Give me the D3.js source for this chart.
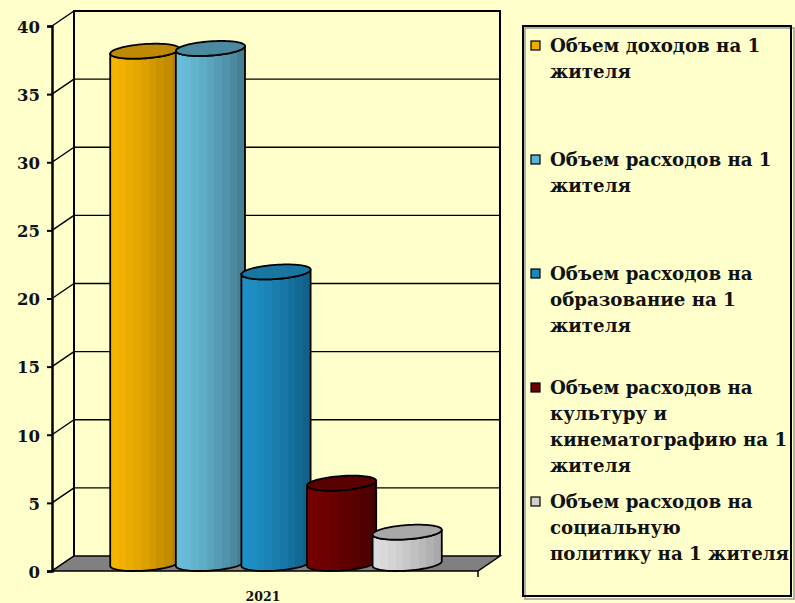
<!DOCTYPE html>
<html>
<head>
<meta charset="utf-8">
<script src="https://cdn.jsdelivr.net/npm/d3@7/dist/d3.min.js"></script>
<style>
  html, body { margin: 0; padding: 0; background: #FFFFCC; }
  svg { display: block; }
  text { font-family: "DejaVu Serif", "Liberation Serif", serif; font-weight: bold; fill: #111; }
</style>
</head>
<body>
<svg id="chart" width="795" height="603"></svg>
<script>
// Budget indicators per inhabitant, 2021
const categories = ["2021"];
const seriesNames = [
  "Объем доходов на 1 жителя",
  "Объем расходов на 1 жителя",
  "Объем расходов на образование на 1 жителя",
  "Объем расходов на культуру и кинематографию на 1 жителя",
  "Объем расходов на социальную политику на 1 жителя"
];
const legendLines = [
  ["Объем доходов на 1", "жителя"],
  ["Объем расходов на 1", "жителя"],
  ["Объем расходов на", "образование на 1", "жителя"],
  ["Объем расходов на", "культуру и", "кинематографию на 1", "жителя"],
  ["Объем расходов на", "социальную", "политику на 1 жителя"]
];
const values2021 = [37.6, 37.8, 21.4, 5.9, 2.3];
const yTicks = [0, 5, 10, 15, 20, 25, 30, 35, 40];

// colour sets: [light side, dark side, top cap, legend swatch]
const palette = [
  ["#F5B400", "#B88300", "#BE8A06", "#F0AA00"],
  ["#68BEDA", "#467F94", "#4A8AA0", "#5BB4D2"],
  ["#1E90C6", "#12618A", "#1876A2", "#1A87BD"],
  ["#740000", "#480000", "#5A0000", "#6A0000"],
  ["#DCDCDC", "#A9A9A9", "#A8A8A8", "#D0D0D0"]
];

const svg = d3.select("#chart");

// plot frame: front plane and depth offset of the 3D box
const frontLeft = 52, frontRight = 478;
const depthX = 22, depthY = -15;
const y = d3.scaleLinear().domain([0, 40]).range([571, 26]);

const x0 = d3.scaleBand().domain(categories).range([frontLeft, frontRight]).paddingInner(0.13).paddingOuter(0.13);
const x1 = d3.scaleBand().domain(d3.range(seriesNames.length)).range([0, x0.bandwidth()]).padding(0);

const g = svg.append("g");

// back wall gridlines
g.selectAll(".grid").data(yTicks.filter(d => d > 0)).join("line")
  .attr("x1", frontLeft + depthX).attr("x2", frontRight + depthX)
  .attr("y1", d => y(d) + depthY).attr("y2", d => y(d) + depthY)
  .attr("stroke", "#000").attr("stroke-width", 1.3);

// back wall edges
g.append("path")
  .attr("d", `M${frontLeft + depthX},${y(0) + depthY}V${y(40) + depthY}H${frontRight + depthX}V${y(0) + depthY}`)
  .attr("fill", "none").attr("stroke", "#000").attr("stroke-width", 2);

// side wall diagonals at each tick
g.selectAll(".diag").data(yTicks).join("line")
  .attr("x1", frontLeft).attr("y1", d => y(d))
  .attr("x2", frontLeft + depthX).attr("y2", d => y(d) + depthY)
  .attr("stroke", "#000").attr("stroke-width", 1.5);

// floor
g.append("path")
  .attr("d", `M${frontLeft},${y(0)}L${frontRight},${y(0)}L${frontRight + depthX},${y(0) + depthY}L${frontLeft + depthX},${y(0) + depthY}Z`)
  .attr("fill", "#808080").attr("stroke", "#000").attr("stroke-width", 1.5);
g.append("line").attr("x1", frontRight).attr("x2", frontRight).attr("y1", y(0)).attr("y2", y(0) + 6)
  .attr("stroke", "#000").attr("stroke-width", 1.5);

// front value axis
const yAxis = d3.axisLeft(y).tickValues(yTicks).tickSize(5).tickPadding(7).tickFormat(d3.format("d"));
const ax = svg.append("g").attr("transform", `translate(${frontLeft},0)`).call(yAxis);
ax.select(".domain").attr("stroke", "#000").attr("stroke-width", 2.5);
ax.selectAll(".tick line").attr("stroke", "#000").attr("stroke-width", 2);
ax.selectAll(".tick text").attr("font-size", 16.5).attr("fill", "#111")
  .attr("font-family", "'DejaVu Serif', serif").attr("font-weight", "bold").attr("dy", "0.38em");

// category label
svg.append("text").attr("x", x0("2021") + x0.bandwidth() / 2 - 2).attr("y", 601)
  .attr("text-anchor", "middle").attr("font-size", 12.5).text(categories[0]);

// gradients with faceted bands across each cylinder
const defs = svg.append("defs");
const bands = 9;

const cyl = g.append("g");
const cylData = values2021.map((v, i) => ({ v, i }));

cylData.forEach(({ v, i }) => {
  const rx = x1.bandwidth() / 2;
  const kx = depthX / 2, ky = depthY / 2;
  const cx = x0("2021") + x1(i) + rx + kx;   // centre at mid depth
  const yb = y(0) + ky, yt = y(v) + ky;
  const pt = (t, yc) => [cx + rx * Math.cos(t) + kx * Math.sin(t), yc + ky * Math.sin(t)];
  const tR = Math.atan2(kx, rx);
  const tL = Math.PI + tR;
  const half = Math.hypot(rx, kx);

  const gid = "grad" + i;
  const grad = defs.append("linearGradient").attr("id", gid)
    .attr("gradientUnits", "userSpaceOnUse")
    .attr("x1", cx - half).attr("x2", cx + half).attr("y1", 0).attr("y2", 0);
  const interp = d3.interpolateRgb(palette[i][0], palette[i][1]);
  for (let b = 0; b < bands; b++) {
    const c = interp(Math.pow(b / (bands - 1), 1.3));
    grad.append("stop").attr("offset", b / bands).attr("stop-color", c);
    grad.append("stop").attr("offset", (b + 1) / bands).attr("stop-color", c);
  }

  // body: sides plus front half of the base ellipse
  const n = 40;
  const pts = [pt(tL, yt)];
  for (let k = 0; k <= n; k++) pts.push(pt(tL + (tR + 2 * Math.PI - tL) * k / n, yb));
  pts.push(pt(tR, yt));
  for (let k = 0; k <= n; k++) pts.push(pt(tR + 2 * Math.PI - (tR + 2 * Math.PI - tL) * k / n, yt));
  cyl.append("path").attr("d", d3.line()(pts) + "Z")
    .attr("fill", `url(#${gid})`).attr("stroke", "#000").attr("stroke-width", 1.8).attr("stroke-linejoin", "round");

  // top cap
  const cap = d3.range(0, 73).map(k => pt(k / 72 * 2 * Math.PI, yt));
  cyl.append("path").attr("d", d3.line()(cap) + "Z")
    .attr("fill", palette[i][2]).attr("stroke", "#000").attr("stroke-width", 1.8);
});

// legend
const lg = svg.append("g");
lg.append("rect").attr("x", 525).attr("y", 28).attr("width", 269).attr("height", 571)
  .attr("fill", "none").attr("stroke", "#999").attr("stroke-width", 1.5);
lg.append("rect").attr("x", 523).attr("y", 26).attr("width", 268).attr("height", 570)
  .attr("fill", "none").attr("stroke", "#000").attr("stroke-width", 2);

const itemY = d3.scalePoint().domain(d3.range(seriesNames.length)).range([52, 508]);
seriesNames.forEach((name, i) => {
  const by = itemY(i);
  lg.append("rect").attr("x", 531).attr("y", by - 11).attr("width", 9).attr("height", 9)
    .attr("fill", palette[i][3]).attr("stroke", "#000").attr("stroke-width", 1.2);
  const t = lg.append("text").attr("x", 550).attr("y", by).attr("font-size", 18.2);
  legendLines[i].forEach((line, j) => {
    t.append("tspan").attr("x", 550).attr("y", by + j * 26).text(line);
  });
});
</script>
</body>
</html>
